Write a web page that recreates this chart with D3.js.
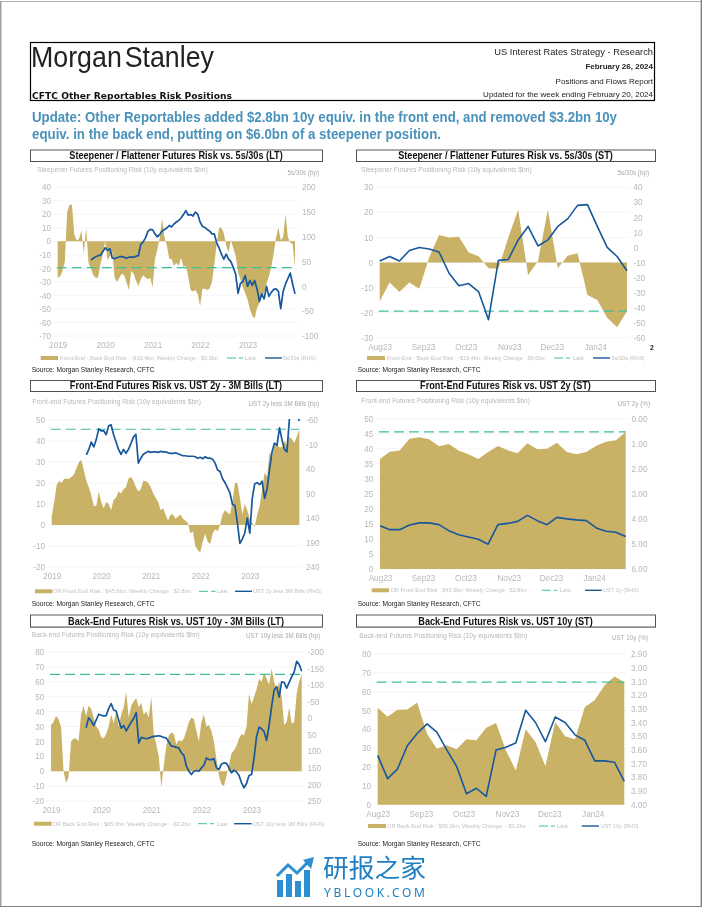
<!DOCTYPE html>
<html><head><meta charset="utf-8">
<script src="https://cdn.jsdelivr.net/npm/d3@7/dist/d3.min.js"></script>
<style>
html,body{margin:0;padding:0;background:#fff}
svg{display:block;filter:blur(0.3px)}
text{font-family:"Liberation Sans",Arial,sans-serif}
</style></head><body><div id="c"></div>
<script>
// ---------- tick labels ----------
const longYears = ["2019","2020","2021","2022","2023"];
const longYearIdx = [0,20,40,60,80];
const shortMonths = ["Aug23","Sep23","Oct23","Nov23","Dec23","Jan24"];
const shortMonthIdx = [0,4.38,8.7,13.1,17.4,21.8];

// ---------- Steepener / flattener (LT), sampled each 0.05 year ----------
const steepLT = [-27,-26,-22,-15,22,27,27,5,0.5,2,8,-9,10,-16,-20,-25,-27,-27,-17,-10,0,-14,-11,-8,-27,-30,-27,-24,-25,-30,-36,-22,-24,-29,-33,-28,-25,-27,-28,-27,-34,-13,-6,3,17,3,-3,-13,-13,-18,-16,-18,-12,-19,-18,-26,-36,-37,-36,-39,-48,-35,-35,-36,-35,-30,-17,-2,10,10,6,-3,-8,1,-5,-11,-23,-28,-34,-38,-43,-50,-55,-57,-49,-46,-41,-38,-31,-26,-19,-9,3,10,1,3,20,3,-1,-2,-19.4];
const curve5s30sLT = [53,57,60,62,63,70,78,73,76,57,56,58,60,60,59,57,59,59,59,61,62,85,90,98,111,115,114,106,100,105,112,115,118,123,120,126,130,133,138,145,153,144,145,142,150,146,130,121,119,115,112,106,106,88,78,65,55,65,55,50,38,25,-14,6,10,22,0,12,2,12,-5,-30,-15,-25,0,-20,-12,-6,-5,-10,-45,-10,5,16,27,5,-15];

// ---------- Steepener / flattener (ST), weekly ----------
const steepST = [-15.5,-8,-11.8,-8,-10.5,2,11,10,10.3,4,2.5,-2.3,-2.5,10,21,-5,0.5,21,-2.3,2.7,3.7,-13,-15,-22,-25.8,-19.4];
const curve5s30sST = [-9,-6,-9,-2,0,-1,-3,-17,-25.5,-24,-29.5,-48,-8.6,-8,5,14,1,5,14,19,28,28.5,14,0,-6,-15.5];

// ---------- Front end (LT) ----------
const frontLT = [4,11,19,21,20,22,22,22,23,24,27,30,31,26,21,18,14,9,9,16,11,8,11,10,7,12,13,16,15,17,18,22,23,21,18,16,17,21,21,20,18,15,13,11,7,8,5,2,5,5,3,4,5,3,2,1,-4,-3,-10,-12,-13,-8,-4,-8,-9,-4,-2,-3,0,5,7,6,5,11,20,20,13,5,10,7,3,1,-1,5,9,17,25,23,35,32,38,38,37,37,40,38,42,41,39,42,45.6];
const ust2y3mLT = [11,0,-15,-5,-20,-42,-38,-38,-30,-48,-50,-30,-15,0,10,0,8,0,-12,-25,-31,28,18,10,7,4,6,5,5,6,4,5,5,7,8,8,7,9,11,13,13,14,14,14,15,18,16,19,15,18,18,20,28,42,45,60,68,78,89,112,115,150,192,183,170,140,171,100,70,68,72,65,100,80,40,5,-13,-8,-44,-20,0,5,-62,-75,-75,-72,-58];

// ---------- Front end (ST) ----------
const frontST = [36.6,39,39.4,43.3,43.8,43.2,40.8,41.6,39.4,38.2,36.6,38.9,40.9,39.5,38.5,41.8,39.8,40,42,38.9,38.2,38.9,41,42.3,42.8,45.6];
const ust2yST = [4.27,4.43,4.43,4.24,4.16,4.16,4.23,4.47,4.63,4.72,4.81,5.01,4.23,4.18,4.1,3.86,4.07,4.23,3.94,4,4.04,4.07,4.36,4.49,4.53,4.7];

// ---------- Back end (LT) ----------
const backLT = [31,33,37,35,30,0,-8,-4,20,22,22,20,38,44,37,44,42,36,30,28,23,22,25,30,38,32,40,30,38,43,53,36,44,47,49,43,46,38,40,36,50,25,18,10,-11,4,17,24,26,25,18,21,20,22,27,33,36,35,27,20,33,38,30,31,27,20,8,-3,-9,-10,-3,4,12,14,17,22,25,24,30,52,45,50,55,62,60,66,62,58,69,60,55,60,50,31,33,43,32,33,52,60,65];
const ust10y3mLT = [29,-1,8,22,6,-12,-9,-7,-8,-29,-44,-25,-22,5,30,22,38,25,12,0,-17,75,58,60,62,60,57,55,54,53,55,58,60,72,84,85,88,90,105,112,145,160,170,160,158,160,150,142,120,125,125,122,150,155,138,135,136,150,165,157,162,173,195,210,197,173,170,120,55,27,32,40,67,22,-35,-85,-95,-64,-110,-108,-91,-108,-125,-140,-172,-162,-142];

// ---------- Back end (ST) ----------
const backST = [51.5,46.7,50.4,50.6,54.2,37.7,29.7,31.5,29.4,34.7,34.2,40.9,43.4,28.8,18.2,40,33.3,20.4,43.9,36.3,34.7,51.9,55.4,63.4,68.1,65.1];
const ust10yST = [3.64,3.81,3.74,3.57,3.48,3.41,3.47,3.60,3.72,3.92,3.88,3.94,3.60,3.58,3.55,3.31,3.40,3.54,3.36,3.40,3.49,3.53,3.68,3.68,3.69,3.83];

// ---------- axis ticks ----------
const leftTicks1 = [40,30,20,10,0,-10,-20,-30,-40,-50,-60,-70];
const rightTicks1 = [200,150,100,50,0,-50,-100];
const leftTicks2 = [30,20,10,0,-10,-20,-30];
const rightTicks2 = [40,30,20,10,0,-10,-20,-30,-40,-50,-60];
const leftTicks3 = [50,40,30,20,10,0,-10,-20];
const rightTicks3 = [-60,-10,40,90,140,190,240];
const leftTicks4 = [50,45,40,35,30,25,20,15,10,5,0];
const rightTicks4 = [0,1,2,3,4,5,6];
const leftTicks5 = [80,70,60,50,40,30,20,10,0,-10,-20];
const rightTicks5 = [-200,-150,-100,-50,0,50,100,150,200,250];
const leftTicks6 = [80,70,60,50,40,30,20,10,0];
const rightTicks6 = [2.9,3,3.1,3.2,3.3,3.4,3.5,3.6,3.7,3.8,3.9,4];

const GOLD="#c9b166", BLUE="#17589c", GREEN="#3fc09c", GREY="#b8b8b8", LEG="#c2c2c2";
const plainInt = d => String(d);

const svg = d3.select("#c").append("svg").attr("width",702).attr("height",907);
svg.append("rect").attr("width",702).attr("height",907).attr("fill","#fff");
// page edge
svg.append("rect").attr("x",0).attr("y",1).attr("width",702).attr("height",1).attr("fill","#b0b0b0");
svg.append("rect").attr("x",0).attr("y",1).attr("width",1.5).attr("height",906).attr("fill","#a0a0a0");
svg.append("rect").attr("x",700.6).attr("y",0).attr("width",1.4).attr("height",907).attr("fill","#808080");
svg.append("rect").attr("x",0).attr("y",906).attr("width",702).attr("height",1).attr("fill","#808080");

// header
svg.append("rect").attr("x",30.5).attr("y",42.5).attr("width",624).attr("height",58).attr("fill","none").attr("stroke","#000").attr("stroke-width",1.2);
svg.append("text").attr("x",31).attr("y",67).attr("font-size",29.5).attr("fill","#222").attr("textLength",183).attr("lengthAdjust","spacingAndGlyphs").style("word-spacing","-5px").text("Morgan Stanley");
svg.append("text").attr("x",32).attr("y",99).attr("font-size",9.5).attr("font-weight",700).attr("fill","#111").style("font-family","'DejaVu Sans'").attr("textLength",200).attr("lengthAdjust","spacingAndGlyphs").text("CFTC Other Reportables Risk Positions");
[["US Interest Rates Strategy - Research",55,9.3,400],["February 26, 2024",69,8,700],["Positions and Flows Report",84,8,400],["Updated for the week ending February 20, 2024",96.5,8,400]].forEach(d=>{
  svg.append("text").attr("x",653).attr("y",d[1]).attr("text-anchor","end").attr("font-size",d[2]).attr("font-weight",d[3]).attr("fill","#222").text(d[0]);
});
[["Update: Other Reportables added $2.8bn 10y equiv. in the front end, and removed $3.2bn 10y",122,585],["equiv. in the back end, putting on $6.0bn of a steepener position.",139,409]].forEach(d=>{
  svg.append("text").attr("x",32).attr("y",d[1]).attr("font-size",14.3).attr("font-weight",700).attr("fill","#4a92bb").attr("textLength",d[2]).attr("lengthAdjust","spacingAndGlyphs").text(d[0]);
});

const panels = [
 {title:"Steepener / Flattener Futures Risk vs. 5s/30s (LT)",box:[30,322,149.5,161],sub:"Steepener Futures Positioning Risk (10y equivalents $bn)",subPos:[37,172],rsub:"5s/30s (bp)",rsubPos:[319,174.5],
  x:[57.7,295],y:[187.3,336],ld:[40,-70],rd:[200,-100],lt:leftTicks1,rt:rightTicks1,rx:302,xb:345,area:steepLT,line:curve5s30sLT,lineStart:14,long:true,w:1.7,
  leg:{y:358,rect:[40.7,58],t1:"Front-End - Back-End Risk : -$19.4bn; Weekly Change : $6.0bn",t1x:60,t1w:158,dash:[227,243],lastx:245,line:[265,282],t2:"5s/30s (RHS)",t2x:283,t2w:33},src:[31.7,372]},
 {title:"Steepener / Flattener Futures Risk vs. 5s/30s (ST)",box:[356,655,149.5,161],sub:"Steepener Futures Positioning Risk (10y equivalents $bn)",subPos:[361,171.7],rsub:"5s/30s (bp)",rsubPos:[649,174.5],
  x:[379.7,627],y:[187.3,337.7],ld:[30,-30],rd:[40,-60],lt:leftTicks2,rt:rightTicks2,rx:633.5,xb:347,area:steepST,line:curve5s30sST,lineStart:0,long:false,w:1.6,
  leg:{y:358,rect:[367,385],t1:"Front-End - Back-End Risk : -$19.4bn; Weekly Change : $6.0bn",t1x:386.7,t1w:158,dash:[554,570],lastx:572.7,line:[593,610],t2:"5s/30s (RHS)",t2x:611.7,t2w:33},src:[357.7,372]},
 {title:"Front-End Futures Risk vs. UST 2y - 3M Bills (LT)",box:[30,322,380,391],sub:"Front-end Futures Positioning Risk (10y equivalents $bn)",subPos:[32.3,404],rsub:"UST 2y less 3M Bills (bp)",rsubPos:[319,406.3],
  x:[51.7,299.3],y:[420,567],ld:[50,-20],rd:[-60,240],lt:leftTicks3,rt:rightTicks3,rx:306,xb:576.3,area:frontLT,line:ust2y3mLT,lineStart:14,long:true,w:1.7,
  leg:{y:591.3,rect:[35,52.3],t1:"OR Front End Risk : $45.6bn; Weekly Change : $2.8bn",t1x:53,t1w:138,dash:[199,215.7],lastx:216.7,line:[235,252],t2:"UST 2y less 3M Bills (RHS)",t2x:253,t2w:69},src:[31.7,605.7]},
 {title:"Front-End Futures Risk vs. UST 2y (ST)",box:[356,655,380,391],sub:"Front-end Futures Positioning Risk (10y equivalents $bn)",subPos:[361.3,403.3],rsub:"UST 2y (%)",rsubPos:[650,405.5],
  x:[380,625.7],y:[418.7,569],ld:[50,0],rd:[0,6],lt:leftTicks4,rt:rightTicks4,rx:631.5,xb:578,area:frontST,line:ust2yST,lineStart:0,long:false,w:1.6,fmtR:d3.format(".2f"),
  leg:{y:590.3,rect:[371.7,389],t1:"OR Front End Risk : $45.6bn; Weekly Change : $2.8bn",t1x:390.7,t1w:136,dash:[541.7,557],lastx:560,line:[585,601.7],t2:"UST 2y (RHS)",t2x:603,t2w:36},src:[357.7,605.7]},
 {title:"Back-End Futures Risk vs. UST 10y - 3M Bills (LT)",box:[30,322,614.5,626.5],sub:"Back-end Futures Positioning Risk (10y equivalents $bn)",subPos:[31.7,637],rsub:"UST 10y less 3M Bills (bp)",rsubPos:[320,637.7],
  x:[51,301.7],y:[652,801],ld:[80,-20],rd:[-200,250],lt:leftTicks5,rt:rightTicks5,rx:307.5,xb:810,area:backLT,line:ust10y3mLT,lineStart:14,long:true,w:1.7,
  leg:{y:823.7,rect:[34,51.7],t1:"OR Back End Risk : $65.0bn; Weekly Change : -$3.2bn",t1x:52.7,t1w:138,dash:[198,214],lastx:216.7,line:[234,251.7],t2:"UST 10y less 3M Bills (RHS)",t2x:252.7,t2w:72},src:[31.7,846]},
 {title:"Back-End Futures Risk vs. UST 10y (ST)",box:[356,655,614.5,626.5],sub:"Back-end Futures Positioning Risk (10y equivalents $bn)",subPos:[359.3,638],rsub:"UST 10y (%)",rsubPos:[648,640.3],
  x:[377.7,624.3],y:[654,804.7],ld:[80,0],rd:[2.9,4],lt:leftTicks6,rt:rightTicks6,rx:631,xb:814,area:backST,line:ust10yST,lineStart:0,long:false,w:1.6,fmtR:d3.format(".2f"),
  leg:{y:826,rect:[368,386],t1:"OR Back End Risk : $65.0bn; Weekly Change : -$3.2bn",t1x:387,t1w:138.7,dash:[539,555],lastx:557,line:[581.7,599],t2:"UST 10y (RHS)",t2x:600.7,t2w:38},src:[357.7,846]}
];

panels.forEach((p,pi)=>{
  const g = svg.append("g");
  // title box
  g.append("rect").attr("x",p.box[0]).attr("y",p.box[2]+1).attr("width",p.box[1]-p.box[0]+1).attr("height",p.box[3]-p.box[2]).attr("fill","#9a9a9a");
  g.append("rect").attr("x",p.box[0]+.5).attr("y",p.box[2]+.5).attr("width",p.box[1]-p.box[0]).attr("height",p.box[3]-p.box[2]).attr("fill","#fff").attr("stroke","#444").attr("stroke-width",.9);
  const tt = g.append("text").attr("x",(p.box[0]+p.box[1])/2).attr("y",p.box[3]-2).attr("text-anchor","middle").attr("font-size",10).attr("font-weight",700).attr("fill","#111").text(p.title);
  tt.attr("textLength",tt.node().getComputedTextLength()*0.915).attr("lengthAdjust","spacingAndGlyphs");
  g.append("text").attr("x",p.subPos[0]).attr("y",p.subPos[1]).attr("font-size",6.7).attr("fill",GREY).text(p.sub);
  g.append("text").attr("x",p.rsubPos[0]).attr("y",p.rsubPos[1]).attr("text-anchor","end").attr("font-size",6.3).attr("fill","#aaa").text(p.rsub);

  const n = p.area.length-1;
  const x = d3.scaleLinear().domain([0,n]).range(p.x);
  const yL = d3.scaleLinear().domain(p.ld).range(p.y);
  const yR = d3.scaleLinear().domain(p.rd).range(p.y);
  const cid = "clip"+pi;
  g.append("clipPath").attr("id",cid).append("rect").attr("x",p.x[0]-1).attr("y",p.y[0]-1).attr("width",p.x[1]-p.x[0]+2).attr("height",p.y[1]-p.y[0]+2);

  // grid
  g.append("g").selectAll("line").data(p.lt).join("line")
    .attr("x1",p.x[0]-5).attr("x2",p.x[1]+2).attr("y1",d=>yL(d)).attr("y2",d=>yL(d)).attr("stroke","#f1f1f1").attr("stroke-width",.7);

  // area
  g.append("path").datum(p.area).attr("fill",GOLD)
    .attr("d",d3.area().x((d,i)=>x(i)).y0(yL(0)).y1(d=>yL(d)));
  // last value dashed
  const last = p.area[n];
  g.append("line").attr("x1",x(0)-1).attr("x2",x(n)).attr("y1",yL(last)).attr("y2",yL(last))
    .attr("stroke",GREEN).attr("stroke-width",1.2).attr("stroke-dasharray","10,5");
  // line
  g.append("path").datum(p.line).attr("fill","none").attr("stroke",BLUE).attr("stroke-width",p.w).attr("stroke-linejoin","round")
    .attr("clip-path",`url(#${cid})`)
    .attr("d",d3.line().x((d,i)=>x(i+p.lineStart)).y(d=>yR(d)));

  // axes
  const styleAxis = s=>{s.select(".domain").remove();s.selectAll(".tick line").remove();s.selectAll("text").attr("fill",GREY).attr("font-size",8.2).style("font-family","'Liberation Sans',Arial,sans-serif");};
  const xa = d3.axisBottom(x).tickValues(p.long?longYearIdx:shortMonthIdx)
    .tickFormat((d,i)=>(p.long?longYears:shortMonths)[i]).tickSize(0).tickPadding(0);
  g.append("g").attr("transform",`translate(0,${p.xb-2.8})`).call(xa).call(styleAxis);
  const la = d3.axisLeft(yL).tickValues(p.lt).tickSize(0).tickPadding(0).tickFormat(plainInt);
  g.append("g").attr("transform",`translate(${p.x[0]-6.7},0)`).call(la).call(styleAxis);
  const ra = d3.axisRight(yR).tickValues(p.rt).tickSize(0).tickPadding(0).tickFormat(p.fmtR||plainInt);
  g.append("g").attr("transform",`translate(${p.rx},0)`).call(ra).call(styleAxis);

  // legend
  const L=p.leg;
  g.append("rect").attr("x",L.rect[0]).attr("y",L.y-2).attr("width",L.rect[1]-L.rect[0]).attr("height",4).attr("fill",GOLD);
  g.append("text").attr("x",L.t1x).attr("y",L.y+2).attr("font-size",5.8).attr("fill",LEG).attr("textLength",L.t1w).attr("lengthAdjust","spacingAndGlyphs").text(L.t1);
  g.append("line").attr("x1",L.dash[0]).attr("x2",L.dash[1]).attr("y1",L.y).attr("y2",L.y).attr("stroke",GREEN).attr("stroke-width",1).attr("stroke-dasharray","9,3,3,0");
  g.append("text").attr("x",L.lastx).attr("y",L.y+2).attr("font-size",5.8).attr("fill",LEG).text("Last");
  g.append("line").attr("x1",L.line[0]).attr("x2",L.line[1]).attr("y1",L.y).attr("y2",L.y).attr("stroke",BLUE).attr("stroke-width",1.4);
  g.append("text").attr("x",L.t2x).attr("y",L.y+2).attr("font-size",5.8).attr("fill",LEG).attr("textLength",L.t2w).attr("lengthAdjust","spacingAndGlyphs").text(L.t2);
  // source
  g.append("text").attr("x",p.src[0]).attr("y",p.src[1]).attr("font-size",6.65).attr("fill","#222").text("Source: Morgan Stanley Research, CFTC");
});

// page number
svg.append("text").attr("x",650).attr("y",350).attr("font-size",6.8).attr("font-weight",700).attr("fill","#222").text("2");

// watermark
const W = svg.append("g").attr("transform","translate(275,860)");
[[2,20,6,17],[11,14,6,23],[20,21,6,16],[29,10,6,27]].forEach(b=>W.append("rect").attr("x",b[0]).attr("y",b[1]).attr("width",b[2]).attr("height",b[3]).attr("fill","#2b8fd1"));
W.append("path").attr("d","M2 16 L13 5 L22 13 L34 1").attr("fill","none").attr("stroke","#2b8fd1").attr("stroke-width",3);
W.append("path").attr("d","M28 0 L39 -3 L36 9 Z").attr("fill","#2b8fd1");
svg.append("text").attr("x",323).attr("y",877).attr("font-size",24.5).attr("fill","#2080c4").style("font-family","'Noto Sans CJK SC'").attr("textLength",103).attr("lengthAdjust","spacingAndGlyphs").text("研报之家");
svg.append("text").attr("x",324).attr("y",896.5).attr("font-size",12).attr("fill","#1f7fc0").style("font-family","'Noto Sans',sans-serif").attr("textLength",101).text("YBLOOK.COM");
</script></body></html>
